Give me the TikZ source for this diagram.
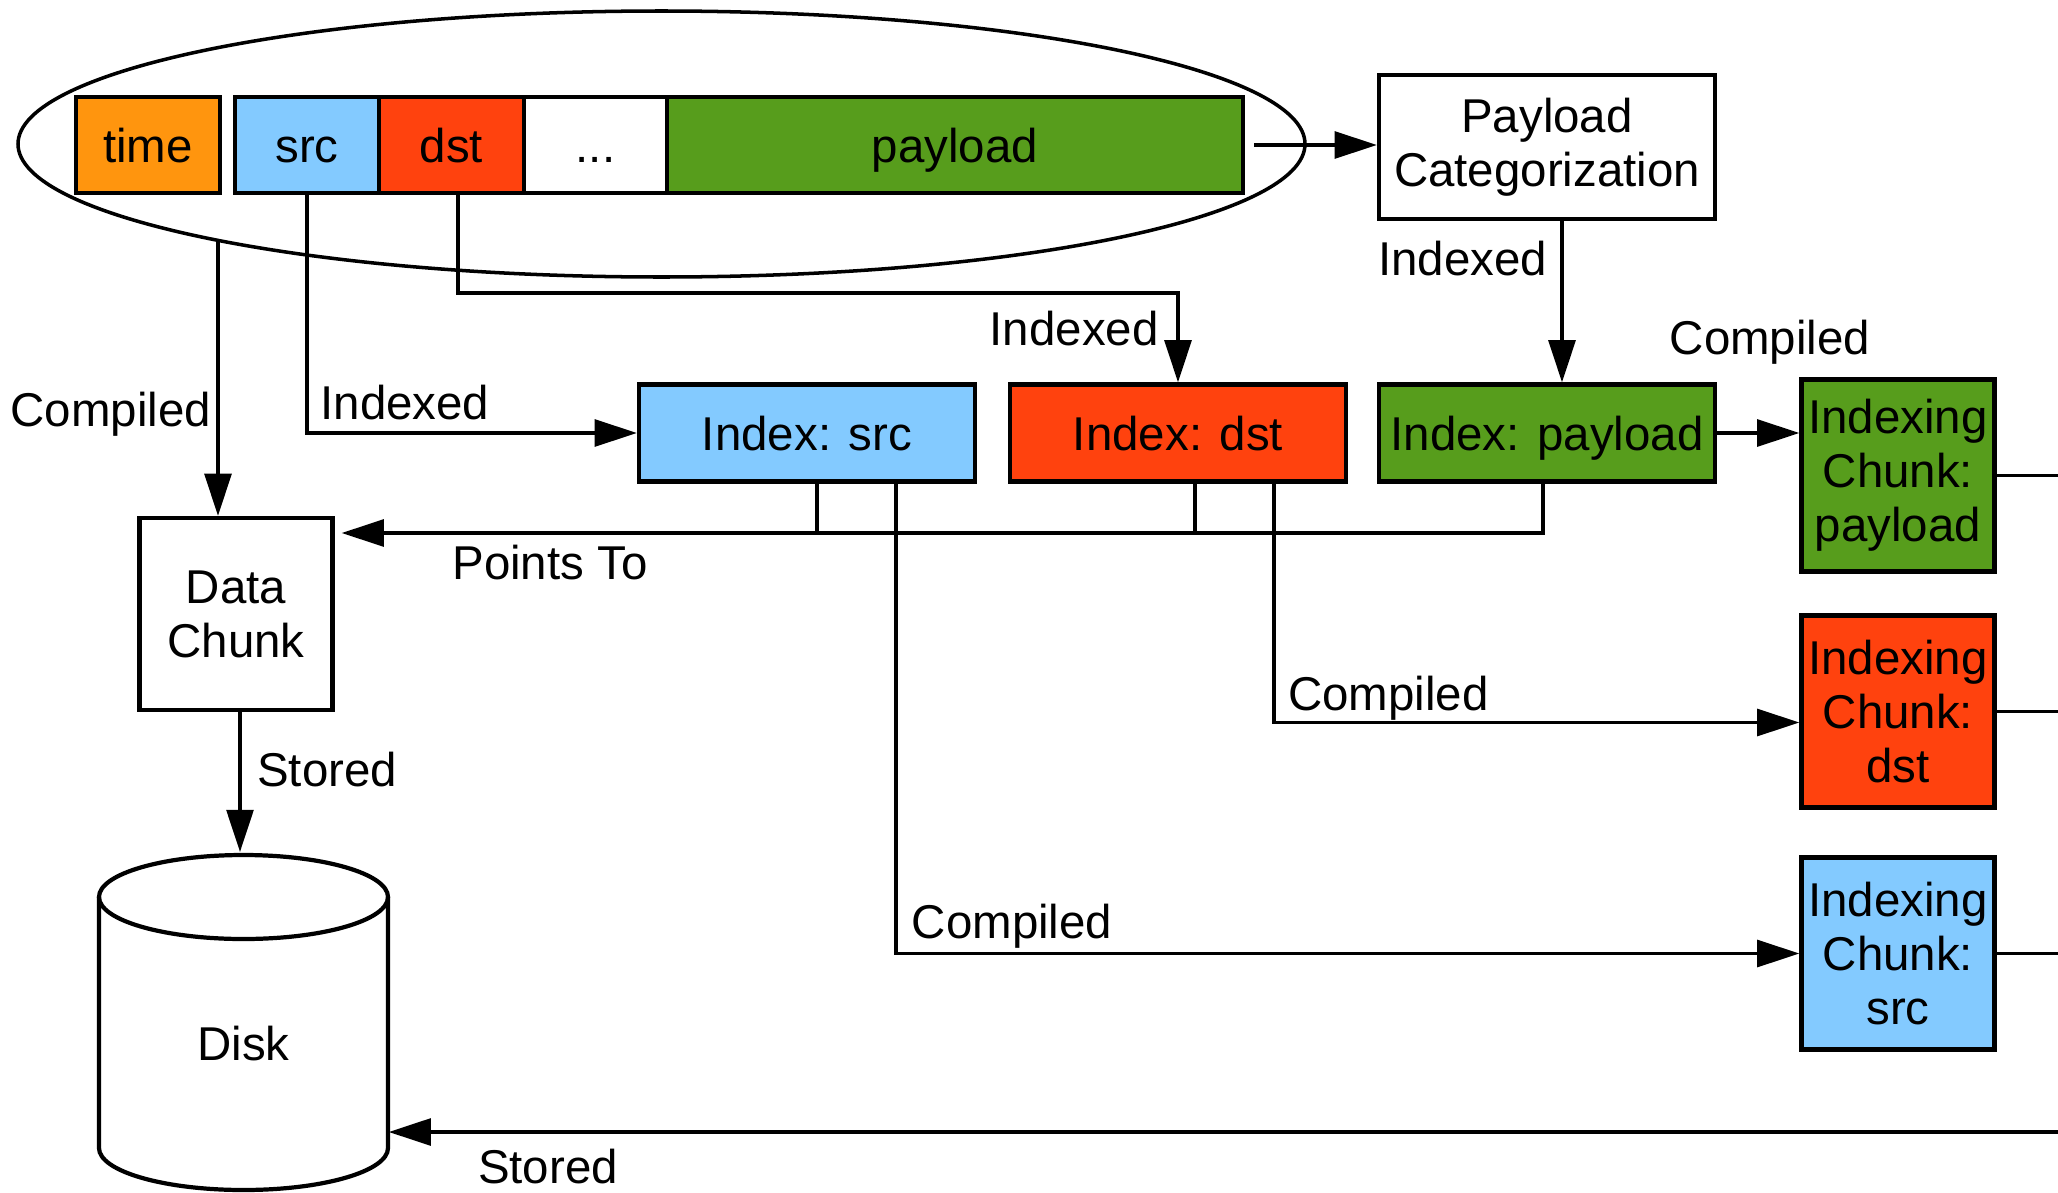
\documentclass[tikz,border=0pt]{standalone}
\usepackage{fontspec}
\setmainfont{Liberation Sans}
\usetikzlibrary{arrows.meta,shapes.geometric}
\definecolor{fieldorange}{HTML}{FF950E}
\definecolor{fieldblue}{HTML}{83CAFF}
\definecolor{fieldred}{HTML}{FF420E}
\definecolor{fieldgreen}{HTML}{579D1C}
\tikzset{
  box/.style={draw, line width=1.2pt, inner sep=0pt, align=center},
  oneline/.style={text height=12.6pt, text depth=2.6pt},
  field/.style={box, oneline, minimum height=0.96cm},
  idx/.style={box, oneline, minimum width=3.36cm, minimum height=0.97cm},
  chunk/.style={box, minimum width=1.93cm, minimum height=1.92cm},
  link/.style={line width=1.05pt},
  arr/.style={link, -{Triangle[length=12pt,width=7.6pt]}},
}

\begin{document}
\begin{tikzpicture}[font=\fontsize{13.5}{15.4}\selectfont]
    \useasboundingbox (0,0) rectangle (20.58,-11.92);
    % the record
    \node[ellipse, draw, line width=1pt, minimum width=12.87cm, minimum height=2.66cm] (frame) at (6.615,-1.44) {};
    \node[field, fill=fieldorange, minimum width=1.44cm] (ftime) at (1.48,-1.45) {time};
    \node[field, fill=fieldblue, minimum width=1.44cm] (fsrc) at (3.07,-1.45) {src};
    \node[field, fill=fieldred, minimum width=1.45cm] (fdst) at (4.515,-1.45) {dst};
    \node[field, fill=white, minimum width=1.43cm] (fdots) at (5.955,-1.45) {...};
    \node[field, fill=fieldgreen, minimum width=5.76cm] (fpay) at (9.55,-1.45) {payload};

    \node[box, minimum width=3.36cm, minimum height=1.44cm] (pcat) at (15.47,-1.47) {Payload\\Categorization};
    \node[idx, fill=fieldblue] (isrc) at (8.07,-4.33) {Index: src};
    \node[idx, fill=fieldred] (idst) at (11.78,-4.33) {Index: dst};
    \node[idx, fill=fieldgreen] (ipay) at (15.47,-4.33) {Index: payload};
    \node[chunk, fill=fieldgreen] (cpay) at (18.98,-4.755) {Indexing\\Chunk:\\payload};
    \node[chunk, fill=fieldred] (cdst) at (18.98,-7.115) {Indexing\\Chunk:\\dst};
    \node[chunk, fill=fieldblue] (csrc) at (18.98,-9.535) {Indexing\\Chunk:\\src};
    \node[box, minimum width=1.93cm, minimum height=1.92cm] (dchunk) at (2.36,-6.14) {Data\\Chunk};

    % disk
    \draw[line width=1.2pt] (0.99,-8.97) -- (0.99,-11.48) arc[start angle=180, end angle=360, x radius=1.445, y radius=0.42] -- (3.88,-8.97);
    \draw[line width=1.2pt] (2.435,-8.97) ellipse [x radius=1.445, y radius=0.42];
    \node[minimum width=2.89cm] (disk) at (2.435,-10.44) {Disk};
    \coordinate (disktop) at (2.435,-8.52);

    % record -> indexes
    \coordinate (tout) at (2.18,-2.42);
    \draw[arr] (tout) -- (tout |- dchunk.north) node[pos=0.63, left, inner sep=1.5pt] {Compiled};
    \draw[arr] (fsrc.south) |- (isrc.west) node[pos=0.5, above right, inner sep=3.3pt] {Indexed};
    \draw[arr] ([xshift=0.065cm]fdst.south) -- ++(0,-0.98) -| (idst.north) node[pos=0.7, left, inner sep=5pt] {Indexed};
    \draw[arr, shorten <=0.09cm] (fpay.east) -- (fpay.east -| pcat.west);
    \draw[arr] ([xshift=0.15cm]pcat.south) -- ([xshift=0.15cm]ipay.north) node[pos=0.23, left, inner sep=3.7pt] {Indexed};
    \draw[arr] (ipay.east) -- (ipay.east -| cpay.west);
    \node at (17.7,-3.42) {Compiled};

    % points to
    \coordinate (bus) at (0,-5.33);
    \coordinate (ps) at ([xshift=0.1cm]isrc.south);
    \coordinate (pd) at ([xshift=0.17cm]idst.south);
    \coordinate (pp) at ([xshift=-0.04cm]ipay.south);
    \draw[link] (ps) -- (ps |- bus);
    \draw[link] (pd) -- (pd |- bus);
    \draw[arr, shorten >=2pt] (pp) |- (bus -| dchunk.east);
    \node at (5.5,-5.63) {Points To};

    % indexes -> chunks
    \coordinate (cs) at ([xshift=0.89cm]isrc.south);
    \coordinate (cd) at ([xshift=0.96cm]idst.south);
    \draw[arr] (cs) |- (csrc.west) node[pos=0.5, above right, inner xsep=4pt, inner ysep=1pt] {Compiled};
    \draw[arr] (cd) |- ([yshift=-0.11cm]cdst.west) node[pos=0.5, above right, inner xsep=3.5pt, inner ysep=0pt] {Compiled};

    % off to the right
    \coordinate (edge) at (20.58,0);
    \foreach \c in {cpay,cdst,csrc}
        \draw[link] (\c.east) -- (\c.east -| edge);

    % stored
    \coordinate (dsout) at ([xshift=0.04cm]dchunk.south);
    \draw[arr] (dsout) -- (dsout |- disktop) node[pos=0.41, right, inner sep=4.4pt] {Stored};
    \coordinate (back) at (20.58,-11.32);
    \draw[arr] (back) -- (back -| disk.east);
    \node at (5.48,-11.67) {Stored};
\end{tikzpicture}
\end{document}
